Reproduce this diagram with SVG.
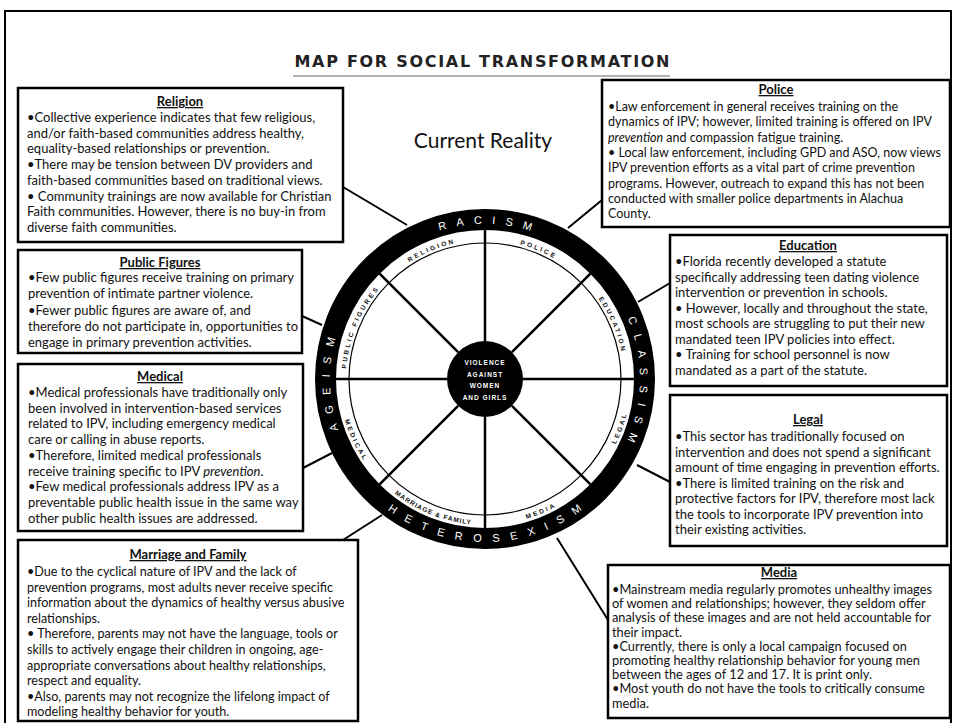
<svg xmlns="http://www.w3.org/2000/svg" width="954" height="723" viewBox="0 0 954 723">
<style>
.box{fill:#fff;stroke:#000;stroke-width:2.5}
.t{font-family:Lato,'Open Sans','Liberation Sans',sans-serif;font-size:13px;fill:#111}
.h{font-weight:bold;text-decoration:underline;text-anchor:middle}
.conn{stroke:#000;stroke-width:2;fill:none}
.spoke{stroke:#000;stroke-width:2.5}
.ring{font-family:'Liberation Sans',Arial,sans-serif;font-size:11px;fill:#fff;letter-spacing:10px}
.sec{font-family:'Liberation Sans',Arial,sans-serif;font-size:6.5px;font-weight:bold;fill:#111;letter-spacing:2.4px}
.ctr{font-family:'Liberation Sans',Arial,sans-serif;font-size:6.5px;font-weight:bold;fill:#fff;letter-spacing:1px;text-anchor:middle}
</style>
<defs>
<path id="cw155" d="M330,379 A155,155 0 1 1 640,379 A155,155 0 1 1 330,379"/>
<path id="cw155b" d="M485,534 A155,155 0 1 1 485,224 A155,155 0 1 1 485,534"/>
<path id="ccw163" d="M322,379 A163,163 0 0 0 648,379 A163,163 0 0 0 322,379"/>
<path id="cw139" d="M346,379 A139,139 0 1 1 624,379 A139,139 0 1 1 346,379"/>
<path id="ccw146" d="M339,379 A146,146 0 0 0 631,379 A146,146 0 0 0 339,379"/>
</defs>
<rect width="954" height="723" fill="#fff"/>
<rect x="5" y="11" width="946" height="722" fill="none" stroke="#000" stroke-width="2"/>

<g id="title">
<text x="482" y="67" text-anchor="middle" textLength="375" lengthAdjust="spacing" style="font-family:'DejaVu Sans',sans-serif;font-weight:bold;font-size:16px;fill:#222">MAP FOR SOCIAL TRANSFORMATION</text>
<line x1="293" y1="76" x2="670" y2="76" stroke="#999" stroke-width="1.5"/>
<text x="483" y="148" text-anchor="middle" style="font-family:Lato,'Open Sans',sans-serif;font-size:21px;fill:#111">Current Reality</text>
</g>

<g id="connectors">
<line class="conn" x1="343" y1="187" x2="407" y2="225"/>
<line class="conn" x1="302" y1="316" x2="322" y2="325"/>
<line class="conn" x1="303" y1="468" x2="332" y2="453"/>
<line class="conn" x1="343" y1="540" x2="382" y2="515"/>
<line class="conn" x1="602" y1="200" x2="568" y2="228"/>
<line class="conn" x1="670" y1="283" x2="638" y2="302"/>
<line class="conn" x1="670" y1="482" x2="637" y2="465"/>
<line class="conn" x1="608" y1="620" x2="557" y2="538"/>
</g>

<g id="wheel">
<circle cx="485" cy="379" r="159.5" fill="#fff" stroke="#000" stroke-width="21"/>
<circle cx="485" cy="379" r="136" fill="none" stroke="#000" stroke-width="1.2"/>
<line class="spoke" x1="523" y1="379" x2="634" y2="379"/>
<line class="spoke" x1="447" y1="379" x2="336" y2="379"/>
<line class="spoke" x1="485" y1="417" x2="485" y2="528"/>
<line class="spoke" x1="485" y1="341" x2="485" y2="230"/>
<line class="spoke" x1="511.9" y1="405.9" x2="590.4" y2="484.4"/>
<line class="spoke" x1="458.1" y1="405.9" x2="379.6" y2="484.4"/>
<line class="spoke" x1="458.1" y1="352.1" x2="379.6" y2="273.6"/>
<line class="spoke" x1="511.9" y1="352.1" x2="590.4" y2="273.6"/>
<circle cx="485" cy="379" r="38" fill="#000"/>
<text class="ctr" x="485" y="365">VIOLENCE</text>
<text class="ctr" x="485" y="376.5">AGAINST</text>
<text class="ctr" x="485" y="388">WOMEN</text>
<text class="ctr" x="485" y="399.5">AND GIRLS</text>
<text class="ring" text-anchor="middle"><textPath href="#cw155" startOffset="248.5">RACISM</textPath></text>
<text class="ring" text-anchor="middle"><textPath href="#cw155" startOffset="492">CLASSISM</textPath></text>
<text class="ring" text-anchor="middle"><textPath href="#cw155b" startOffset="243">AGEISM</textPath></text>
<text class="ring" text-anchor="middle" style="letter-spacing:11px"><textPath href="#ccw163" startOffset="261.5">HETEROSEXISM</textPath></text>
<text class="sec" text-anchor="middle"><textPath href="#cw139" startOffset="54.6">PUBLIC FIGURES</textPath></text>
<text class="sec" text-anchor="middle"><textPath href="#cw139" startOffset="163.7">RELIGION</textPath></text>
<text class="sec" text-anchor="middle"><textPath href="#cw139" startOffset="272.9">POLICE</textPath></text>
<text class="sec" text-anchor="middle"><textPath href="#cw139" startOffset="380.9">EDUCATION</textPath></text>
<text class="sec" text-anchor="middle"><textPath href="#ccw146" startOffset="64.9">MEDICAL</textPath></text>
<text class="sec" text-anchor="middle" style="letter-spacing:1px"><textPath href="#ccw146" startOffset="173.8">MARRIAGE &amp; FAMILY</textPath></text>
<text class="sec" text-anchor="middle"><textPath href="#ccw146" startOffset="287.9">MEDIA</textPath></text>
<text class="sec" text-anchor="middle"><textPath href="#ccw146" startOffset="407.6">LEGAL</textPath></text>
</g>

<g id="religion">
<rect class="box" x="18" y="88" width="325" height="154"/>
<text class="t h" x="180" y="106">Religion</text>
<text class="t">
<tspan x="27" y="122">•Collective experience indicates that few religious,</tspan>
<tspan x="27" y="137.7">and/or faith-based communities address healthy,</tspan>
<tspan x="27" y="153.4">equality-based relationships or prevention.</tspan>
<tspan x="27" y="169">•There may be tension between DV providers and</tspan>
<tspan x="27" y="184.8">faith-based communities based on traditional views.</tspan>
<tspan x="27" y="200.5">• Community trainings are now available for Christian</tspan>
<tspan x="27" y="216.2">Faith communities. However, there is no buy-in from</tspan>
<tspan x="27" y="232">diverse faith communities.</tspan>
</text>
</g>

<g id="public-figures">
<rect class="box" x="18" y="250" width="284" height="103"/>
<text class="t h" x="160" y="267">Public Figures</text>
<text class="t">
<tspan x="28" y="282">•Few public figures receive training on primary</tspan>
<tspan x="28" y="298">prevention of intimate partner violence.</tspan>
<tspan x="28" y="314.5">•Fewer public figures are aware of, and</tspan>
<tspan x="28" y="330.5">therefore do not participate in, opportunities to</tspan>
<tspan x="28" y="347">engage in primary prevention activities.</tspan>
</text>
</g>

<g id="medical">
<rect class="box" x="18" y="364" width="285" height="167"/>
<text class="t h" x="160" y="381">Medical</text>
<text class="t">
<tspan x="28" y="397">•Medical professionals have traditionally only</tspan>
<tspan x="28" y="412.7">been involved in intervention-based services</tspan>
<tspan x="28" y="428.4">related to IPV, including emergency medical</tspan>
<tspan x="28" y="444">care or calling in abuse reports.</tspan>
<tspan x="28" y="459.8">•Therefore, limited medical professionals</tspan>
<tspan x="28" y="475.5">receive training specific to IPV <tspan font-style="italic">prevention</tspan>.</tspan>
<tspan x="28" y="491.2">•Few medical professionals address IPV as a</tspan>
<tspan x="28" y="507">preventable public health issue in the same way</tspan>
<tspan x="28" y="522.6">other public health issues are addressed.</tspan>
</text>
</g>

<g id="marriage-family">
<rect class="box" x="18" y="540" width="340" height="181"/>
<text class="t h" x="188" y="559">Marriage and Family</text>
<text class="t" style="font-size:12.6px">
<tspan x="27" y="576">•Due to the cyclical nature of IPV and the lack of</tspan>
<tspan x="27" y="591.6">prevention programs, most adults never receive specific</tspan>
<tspan x="27" y="607.2">information about the dynamics of healthy versus abusive</tspan>
<tspan x="27" y="622.8">relationships.</tspan>
<tspan x="27" y="638.4">• Therefore, parents may not have the language, tools or</tspan>
<tspan x="27" y="654">skills to actively engage their children in ongoing, age-</tspan>
<tspan x="27" y="669.6">appropriate conversations about healthy relationships,</tspan>
<tspan x="27" y="685.2">respect and equality.</tspan>
<tspan x="27" y="700.8">•Also, parents may not recognize the lifelong impact of</tspan>
<tspan x="27" y="716.4">modeling healthy behavior for youth.</tspan>
</text>
</g>

<g id="police">
<rect class="box" x="602" y="80" width="348" height="147"/>
<text class="t h" x="776" y="94">Police</text>
<text class="t" style="font-size:12.5px">
<tspan x="608" y="111">•Law enforcement in general receives training on the</tspan>
<tspan x="608" y="126.3">dynamics of IPV; however, limited training is offered on IPV</tspan>
<tspan x="608" y="141.6"><tspan font-style="italic">prevention</tspan> and compassion fatigue training.</tspan>
<tspan x="608" y="157">• Local law enforcement, including GPD and ASO, now views</tspan>
<tspan x="608" y="172.2">IPV prevention efforts as a vital part of crime prevention</tspan>
<tspan x="608" y="187.5">programs. However, outreach to expand this has not been</tspan>
<tspan x="608" y="202.8">conducted with smaller police departments in Alachua</tspan>
<tspan x="608" y="218">County.</tspan>
</text>
</g>

<g id="education">
<rect class="box" x="670" y="235" width="277" height="151"/>
<text class="t h" x="808" y="250">Education</text>
<text class="t">
<tspan x="675" y="266">•Florida recently developed a statute</tspan>
<tspan x="675" y="281.5">specifically addressing teen dating violence</tspan>
<tspan x="675" y="297">intervention or prevention in schools.</tspan>
<tspan x="675" y="312.5">• However, locally and throughout the state,</tspan>
<tspan x="675" y="328">most schools are struggling to put their new</tspan>
<tspan x="675" y="343.5">mandated teen IPV policies into effect.</tspan>
<tspan x="675" y="359">• Training for school personnel is now</tspan>
<tspan x="675" y="374.5">mandated as a part of the statute.</tspan>
</text>
</g>

<g id="legal">
<rect class="box" x="670" y="395" width="277" height="151"/>
<text class="t h" x="808" y="424">Legal</text>
<text class="t">
<tspan x="675" y="441">•This sector has traditionally focused on</tspan>
<tspan x="675" y="456.5">intervention and does not spend a significant</tspan>
<tspan x="675" y="472">amount of time engaging in prevention efforts.</tspan>
<tspan x="675" y="487.5">•There is limited training on the risk and</tspan>
<tspan x="675" y="503">protective factors for IPV, therefore most lack</tspan>
<tspan x="675" y="518.5">the tools to incorporate IPV prevention into</tspan>
<tspan x="675" y="534">their existing activities.</tspan>
</text>
</g>

<g id="media">
<rect class="box" x="608" y="565" width="342" height="153"/>
<text class="t h" x="779" y="577">Media</text>
<text class="t" style="font-size:12.8px">
<tspan x="612" y="594">•Mainstream media regularly promotes unhealthy images</tspan>
<tspan x="612" y="608.2">of women and relationships; however, they seldom offer</tspan>
<tspan x="612" y="622.4">analysis of these images and are not held accountable for</tspan>
<tspan x="612" y="636.6">their impact.</tspan>
<tspan x="612" y="650.8">•Currently, there is only a local campaign focused on</tspan>
<tspan x="612" y="665">promoting healthy relationship behavior for young men</tspan>
<tspan x="612" y="679.2">between the ages of 12 and 17. It is print only.</tspan>
<tspan x="612" y="693.4">•Most youth do not have the tools to critically consume</tspan>
<tspan x="612" y="707.6">media.</tspan>
</text>
</g>
</svg>
